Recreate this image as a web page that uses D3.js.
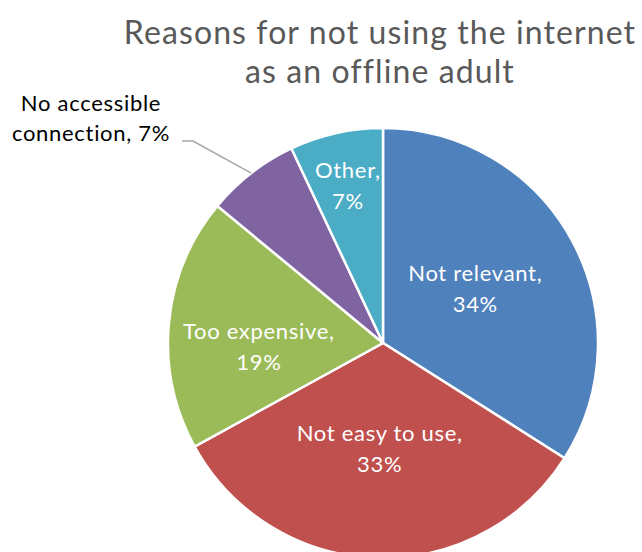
<!DOCTYPE html>
<html>
<head>
<meta charset="utf-8">
<script src="https://cdn.jsdelivr.net/npm/d3@7"></script>
<style>
  body { margin: 0; background: #fff; }
  text { font-family: Lato, "Open Sans", sans-serif; }
</style>
</head>
<body>
<svg id="chart" width="642" height="552"></svg>
<script>
// Chart data
const categories = ["Not relevant", "Not easy to use", "Too expensive", "No accessible connection", "Other"];
const values = [34, 33, 19, 7, 7];
const colors = ["#4F81BD", "#C0504D", "#9BBB59", "#8064A2", "#4BACC6"];
const titleLines = ["Reasons for not using the internet", "as an offline adult"];

const svg = d3.select("#chart");
const cx = 383, cy = 343, radius = 215;

// Title
svg.append("g")
  .selectAll("text")
  .data(titleLines)
  .join("text")
  .attr("x", 380)
  .attr("y", (d, i) => 44 + i * 39)
  .attr("text-anchor", "middle")
  .attr("font-size", 32)
  .attr("letter-spacing", 1.1)
  .attr("fill", "#595959")
  .text(d => d);

const pie = d3.pie().sort(null).value(d => d);
const arcs = pie(values);
const arc = d3.arc().innerRadius(0).outerRadius(radius);

const g = svg.append("g").attr("transform", `translate(${cx},${cy})`);

g.selectAll("path")
  .data(arcs)
  .join("path")
  .attr("d", arc)
  .attr("fill", (d, i) => colors[i])
  .attr("stroke", "#fff")
  .attr("stroke-width", 2.5);

// Label placement inside slices: fraction of radius along the mid angle, plus a vertical nudge
const labelR = [0.49, 0.49, 0.58, 0, 0.75];
const labelNudge = [-4, 0, 15, 0, 0];
const labelLines = (i) => [categories[i] + ",", values[i] + "%"];

arcs.forEach((a, i) => {
  if (i === 3) return;
  const mid = (a.startAngle + a.endAngle) / 2;
  const r = radius * labelR[i];
  const x = Math.sin(mid) * r, y = -Math.cos(mid) * r + labelNudge[i];
  const t = g.append("text")
    .attr("text-anchor", "middle")
    .attr("font-size", 22)
    .attr("letter-spacing", 0.7)
    .attr("fill", "#fff");
  labelLines(i).forEach((line, k) => {
    t.append("tspan")
      .attr("x", x)
      .attr("y", y + (k - 0.5) * 31 + 8)
      .text(line);
  });
});

// Outside label with leader line for the small purple slice
const small = arcs[3];
const smid = (small.startAngle + small.endAngle) / 2;
const edge = [Math.sin(smid) * radius, -Math.cos(smid) * radius];
g.append("polyline")
  .attr("points", [[-201, -202], [-190, -202], edge].map(p => p.join(",")).join(" "))
  .attr("fill", "none")
  .attr("stroke", "#a6a6a6")
  .attr("stroke-width", 1.5);

const ot = svg.append("text")
  .attr("text-anchor", "middle")
  .attr("font-size", 22)
  .attr("letter-spacing", 0.7)
  .attr("fill", "#000");
["No accessible", "connection, " + values[3] + "%"].forEach((line, k) => {
  ot.append("tspan").attr("x", 91).attr("y", 111 + k * 30).text(line);
});
</script>
</body>
</html>
